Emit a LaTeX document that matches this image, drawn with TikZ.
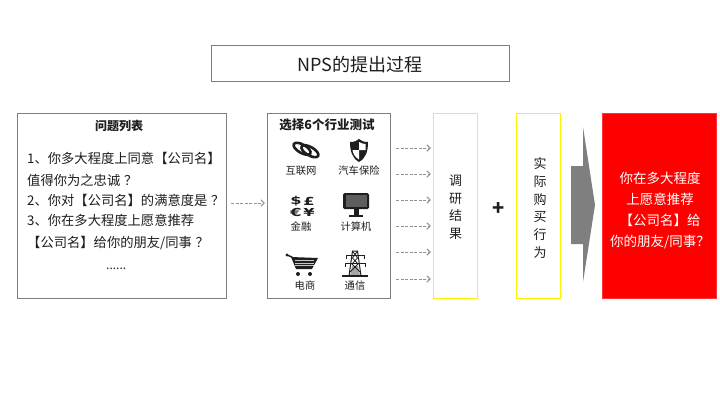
\documentclass[tikz,border=0pt]{standalone}
\usepackage{fontspec}
\setmainfont{Noto Sans CJK SC}
\newfontfamily\curfont{DejaVu Sans}
\usetikzlibrary{arrows.meta}
\definecolor{edge}{RGB}{127,127,127}
\definecolor{ink}{RGB}{30,30,30}
\newcommand{\qmk}{\hspace{0.28em}？}
\tikzset{
  panel/.style={draw=edge,line width=0.8pt,fill=white,inner sep=0pt,anchor=north west},
  ybox/.style={draw=yellow,line width=1.2pt,fill=white,inner sep=0pt,anchor=north west,minimum width=44pt,minimum height=185pt},
  lbl/.style={font=\fontsize{10.3}{11}\selectfont,text=ink,inner sep=0pt},
  line12/.style={font=\fontsize{13.3}{13}\selectfont,text=ink,inner sep=0pt,anchor=base west},
  head/.style={font=\bfseries,text=ink,inner sep=0pt},
  cur/.style={font=\curfont\bfseries\fontsize{13}{13}\selectfont,text=ink,inner sep=0pt,xscale=1.25,yscale=0.85},
  flow/.style={draw=edge!85!white,line width=1pt,dash pattern=on 3pt off 1.5pt,-{Straight Barb[length=3.5pt,width=6.5pt]}},
  icon/.style={fill=ink,draw=none}
}
\begin{document}
\begin{tikzpicture}[x=1pt,y=-1pt]
\useasboundingbox (0,0) rectangle (720,405);
\fill[white] (0,0) rectangle (720,405);
\node[panel,minimum width=298pt,minimum height=36pt] (title) at (211,45) {};
\node[font=\fontsize{18}{18}\selectfont,text=ink,inner sep=0pt] (titletext) at (360,65) {NPS的提出过程};

\node[panel,minimum width=209pt,minimum height=185pt] (qbox) at (17,113) {};
\node[head,font=\fontsize{12}{12}\selectfont\bfseries] (qhead) at (119,126) {问题列表};
\node[line12] (q1) at (27,163) {1、你多大程度上同意【公司名】};
\node[line12] (q2) at (27,185) {值得你为之忠诚\qmk};
\node[line12] (q3) at (27,205) {2、你对【公司名】的满意度是\qmk};
\node[line12] (q4) at (27,225) {3、你在多大程度上愿意推荐};
\node[line12] (q5) at (27,247) {【公司名】给你的朋友/同事\qmk};
\node[line12,font=\fontsize{12}{12}\selectfont] (q6) at (106,269) {......};

\node[panel,minimum width=123pt,minimum height=185pt] (ibox) at (267,113) {};
\node[head,font=\fontsize{12.5}{12.5}\selectfont\bfseries] (ihead) at (327,125) {选择6个行业测试};

\node[lbl] (l1) at (301,171) {互联网};
\node[lbl] (l2) at (359,171) {汽车保险};
\node[lbl] (l3) at (301,227) {金融};
\node[lbl] (l4) at (356,227) {计算机};
\node[lbl] (l5) at (305,286) {电商};
\node[lbl] (l6) at (355,286) {通信};

% chain-link icon
\begin{scope}[shift={(306,150)},rotate=-30]
\draw[ink,line width=2.6pt] (-4,0.9) ellipse (9.5pt and 4.2pt);
\draw[ink,line width=2.6pt] (4,-0.9) ellipse (9.5pt and 4.2pt);
\end{scope}
% shield icon
\path[icon] (350,142) .. controls (354,142) and (357,141) .. (359,139) .. controls (361,141) and (364,142) .. (368,142) .. controls (368,151) and (366,158) .. (359,162) .. controls (352,158) and (350,151) .. (350,142) -- cycle;
\fill[white] (359,142) .. controls (361,143) and (363,144) .. (365.5,144) -- (365.5,150) -- (359,150) -- cycle;
\fill[white] (359,150) -- (352.5,150) .. controls (353,154) and (355,157) .. (359,159.5) -- cycle;
% currency icon
\node[cur] (cur1) at (296,201.5) {\$};
\node[cur] (cur2) at (309,201.5) {£};
\node[cur] (cur3) at (296,212) {€};
\node[cur] (cur4) at (309,212) {¥};
% monitor icon
\fill[icon,rounded corners=1.5pt] (343,193) rectangle (369,209);
\fill[ink!72!white] (345.5,195) rectangle (366.5,206.5);
\fill[icon] (353.5,209) rectangle (358.5,215);
\fill[icon] (349,215) rectangle (363,217);
% cart icon
\draw[ink,line width=1.4pt,line cap=round] (287,255) -- (292,257);
\fill[ink] (287,255) circle (1.6pt);
\path[icon] (291,257) -- (318,258) -- (312,269) -- (296,269) -- cycle;
\foreach \yy in {260.5,263,265.5}{\draw[white!75!ink,line width=0.4pt] (295,\yy) -- (314,\yy);}
\fill[ink] (298,274) circle (2pt);
\fill[ink] (310,274) circle (2pt);
% tower icon
\fill[gray!70] (350,276) -- (352,266) -- (358,266) -- (360,276) -- cycle;
\draw[ink,line width=1.2pt] (342,276) -- (368,276);
\draw[ink,line width=1pt] (349,276) -- (352.5,251) -- (357.5,251) -- (361,276);
\draw[ink,line width=0.8pt] (352.5,251) -- (357.5,258) -- (352,264) -- (360,272);
\draw[ink,line width=0.8pt] (357.5,251) -- (352.5,258) -- (358,264) -- (350,272);
\draw[ink,line width=0.8pt] (346,255) -- (364,255) (345,263) -- (365,263);
\draw[ink,line width=0.8pt] (346,255) -- (346,259) (364,255) -- (364,259) (345,263) -- (345,267) (365,263) -- (365,267);

\node[ybox] (survey) at (433,113) {};
\node[font=\fontsize{13}{17.5}\selectfont,text=ink,align=center,inner sep=0pt] (surveytext) at (455.5,207) {调\\研\\结\\果};
\node[font=\fontsize{20}{20}\selectfont\bfseries,text=ink,inner sep=0pt] (plus) at (499,209) {+};
\node[ybox] (buy) at (516,113) {};
\node[font=\fontsize{13}{17.8}\selectfont,text=ink,align=center,inner sep=0pt] (buytext) at (540,208) {实\\际\\购\\买\\行\\为};

\path[fill=edge] (571,166) -- (583,166) -- (583,127) -- (595,205) -- (583,282) -- (583,244) -- (571,244) -- cycle;

\node[draw=red!80!white,fill=red,line width=0.6pt,inner sep=0pt,anchor=north west,minimum width=114pt,minimum height=185pt] (nps) at (602,113) {};
\node[font=\fontsize{13.5}{21}\selectfont,text=white,align=center,inner sep=0pt] (npstext) at (660,210) {你在多大程度\\上愿意推荐\\【公司名】给\\你的朋友/同事？};

\coordinate (qout) at (231,203);
\coordinate (iin) at (265,203);
\draw[flow] (qout) -- (iin);
\foreach \n/\yy in {1/148,2/174,3/200,4/226,5/252,6/279}{
  \coordinate (a\n) at (396,\yy);
  \coordinate (b\n) at (431,\yy);
  \draw[flow] (a\n) -- (b\n);
}
\end{tikzpicture}
\end{document}
